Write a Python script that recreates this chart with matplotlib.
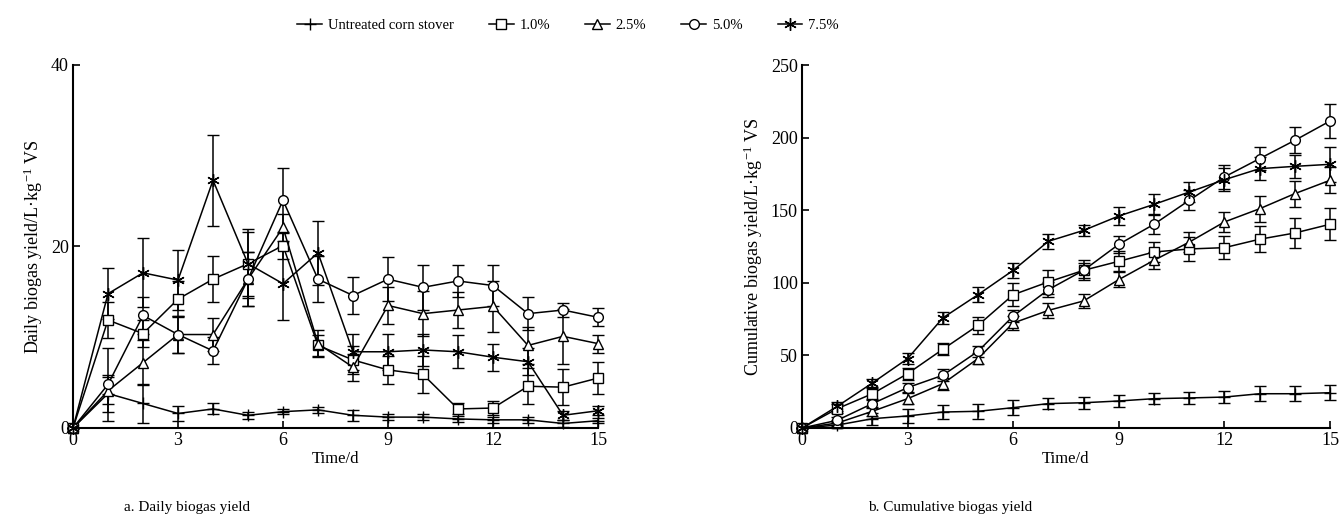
import numpy as np
import matplotlib
matplotlib.use('Agg')
import matplotlib.pyplot as plt

plt.rcParams['font.family'] = ['Liberation Serif', 'DejaVu Serif']
plt.rcParams['font.size'] = 11
plt.rcParams['mathtext.fontset'] = 'custom'
plt.rcParams['mathtext.rm'] = 'Liberation Serif'
plt.rcParams['mathtext.it'] = 'Liberation Serif:italic'

# Datos
days = list(range(16))
labels = ['Untreated corn stover', '1.0%', '2.5%', '5.0%', '7.5%']

daily_untreated = [0, 3.8, 2.7, 1.6, 2.1, 1.4, 1.8, 2.0, 1.4, 1.2, 1.2, 1.0, 0.9, 0.9, 0.5, 0.8]
daily_10 = [0, 11.9, 10.4, 14.2, 16.4, 18.1, 20.1, 9.1, 7.5, 6.4, 5.9, 2.1, 2.2, 4.6, 4.5, 5.5]
daily_25 = [0, 4.1, 7.2, 10.3, 10.3, 16.4, 22.1, 9.3, 6.7, 13.5, 12.6, 13.0, 13.4, 9.1, 10.1, 9.3]
daily_50 = [0, 4.8, 12.4, 10.3, 8.5, 16.4, 25.1, 16.4, 14.6, 16.4, 15.5, 16.2, 15.7, 12.6, 13.0, 12.2]
daily_75 = [0, 14.8, 17.1, 16.3, 27.3, 18.1, 15.9, 19.3, 8.4, 8.4, 8.6, 8.4, 7.8, 7.3, 1.4, 1.9]

daily_err_untreated = [0, 2.0, 2.2, 0.8, 0.6, 0.4, 0.3, 0.3, 0.6, 0.3, 0.3, 0.3, 0.3, 0.3, 0.4, 0.3]
daily_err_10 = [0, 2.0, 1.5, 2.0, 2.5, 3.8, 1.5, 1.2, 1.5, 1.5, 2.0, 0.6, 0.8, 2.0, 2.0, 1.8]
daily_err_25 = [0, 1.5, 2.5, 2.0, 1.8, 3.0, 1.5, 1.5, 1.5, 2.0, 2.5, 2.0, 2.8, 2.0, 3.0, 1.0]
daily_err_50 = [0, 4.0, 2.0, 2.0, 1.5, 3.0, 3.6, 2.5, 2.0, 2.4, 2.5, 1.8, 2.3, 1.8, 0.8, 1.0]
daily_err_75 = [0, 2.8, 3.8, 3.3, 5.0, 3.5, 4.0, 3.5, 2.0, 2.0, 1.8, 1.8, 1.5, 1.5, 0.5, 0.5]

cum_untreated = [0, 2, 6.4, 8.3, 11, 11.5, 14, 16.8, 17.4, 18.6, 20.2, 20.7, 21.3, 23.6, 23.6, 24.3]
cum_10 = [0, 13.3, 23.6, 37.4, 54.2, 70.7, 91.8, 100.6, 108.6, 114.8, 121.2, 123.3, 124.2, 130, 134.3, 140.3]
cum_25 = [0, 3.4, 11.5, 20.2, 30.5, 47.8, 72.3, 81, 87.5, 102.2, 115.5, 128, 141.9, 151, 161.4, 170.6]
cum_50 = [0, 5.3, 16.8, 27.8, 36.3, 52.8, 77.1, 95.3, 108.6, 126.5, 140.3, 156.8, 172.9, 185.5, 198.1, 211.4]
cum_75 = [0, 14.9, 31, 47.8, 75.8, 91.8, 108.6, 128.6, 136.1, 146, 154, 162.5, 171, 178.6, 180.2, 181.6]

cum_err_untreated = [0, 2, 4, 5, 5, 5, 5, 4, 4, 4, 4, 4, 4, 5, 5, 5]
cum_err_10 = [0, 3, 4, 4, 4, 6, 8, 8, 7, 7, 7, 8, 8, 9, 10, 11]
cum_err_25 = [0, 2, 3, 4, 4, 4, 5, 5, 5, 5, 6, 7, 7, 9, 9, 9]
cum_err_50 = [0, 2, 3, 3, 4, 4, 4, 5, 5, 6, 7, 7, 8, 8, 9, 12]
cum_err_75 = [0, 3, 3, 4, 4, 5, 5, 5, 4, 6, 7, 7, 8, 8, 8, 12]

markers = ['+', 's', '^', 'o', (6, 2, 0)]
msizes = [8, 7, 6.5, 7, 9]
daily = [daily_untreated, daily_10, daily_25, daily_50, daily_75]
daily_err = [daily_err_untreated, daily_err_10, daily_err_25, daily_err_50, daily_err_75]
cum = [cum_untreated, cum_10, cum_25, cum_50, cum_75]
cum_err = [cum_err_untreated, cum_err_10, cum_err_25, cum_err_50, cum_err_75]

fig = plt.figure(figsize=(13.4, 5.18), dpi=100)
ax1 = fig.add_axes([73/1340, 1 - 428/518, 525/1340, 363/518])
ax2 = fig.add_axes([802/1340, 1 - 428/518, 528/1340, 363/518])


def dibujar(ax, series, errores):
    handles = []
    for vals, errs, m, ms in zip(series, errores, markers, msizes):
        h = ax.errorbar(days, vals, yerr=errs, color='black', lw=1.1,
                        marker=m, markersize=ms, markerfacecolor='white',
                        markeredgecolor='black', markeredgewidth=1.0,
                        capsize=4, elinewidth=1.1, capthick=1.1)
        h.lines[0].set_clip_on(False)
        for c in h.lines[1]:
            c.set_clip_on(False)
        for c in h.lines[2]:
            c.set_clip_on(False)
        handles.append(h)
    ax.spines['top'].set_visible(False)
    ax.spines['right'].set_visible(False)
    ax.spines['left'].set_linewidth(1.5)
    ax.spines['bottom'].set_linewidth(1.5)
    ax.set_xlim(0, 15)
    ax.set_xticks(range(0, 16, 3))
    ax.tick_params(direction='in', length=5, width=1.2, labelsize=13, pad=3)
    ax.set_xlabel('Time/d', fontsize=12, labelpad=1)
    return handles


hs = dibujar(ax1, daily, daily_err)
ax1.set_ylim(0, 40)
ax1.set_yticks([0, 20, 40])
ax1.set_ylabel('Daily biogas yield/L·kg$^{-1}$ VS', fontsize=13, labelpad=4)

dibujar(ax2, cum, cum_err)
ax2.set_ylim(0, 250)
ax2.set_yticks(range(0, 251, 50))
ax2.set_ylabel('Cumulative biogas yield/L·kg$^{-1}$ VS', fontsize=13, labelpad=4)

fig.text(187/1340, 1 - 508/518, 'a. Daily biogas yield', ha='center', va='center', fontsize=11)
fig.text(950/1340, 1 - 508/518, 'b. Cumulative biogas yield', ha='center', va='center', fontsize=11)

leg_handles = [h.lines[0] for h in hs]
fig.legend(leg_handles, labels, loc='center', bbox_to_anchor=(568/1340, 1 - 25/518),
           ncol=5, frameon=False, fontsize=10.5, handlelength=1.7, columnspacing=2.4,
           handletextpad=0.4)

plt.savefig('out.png', dpi=100)
